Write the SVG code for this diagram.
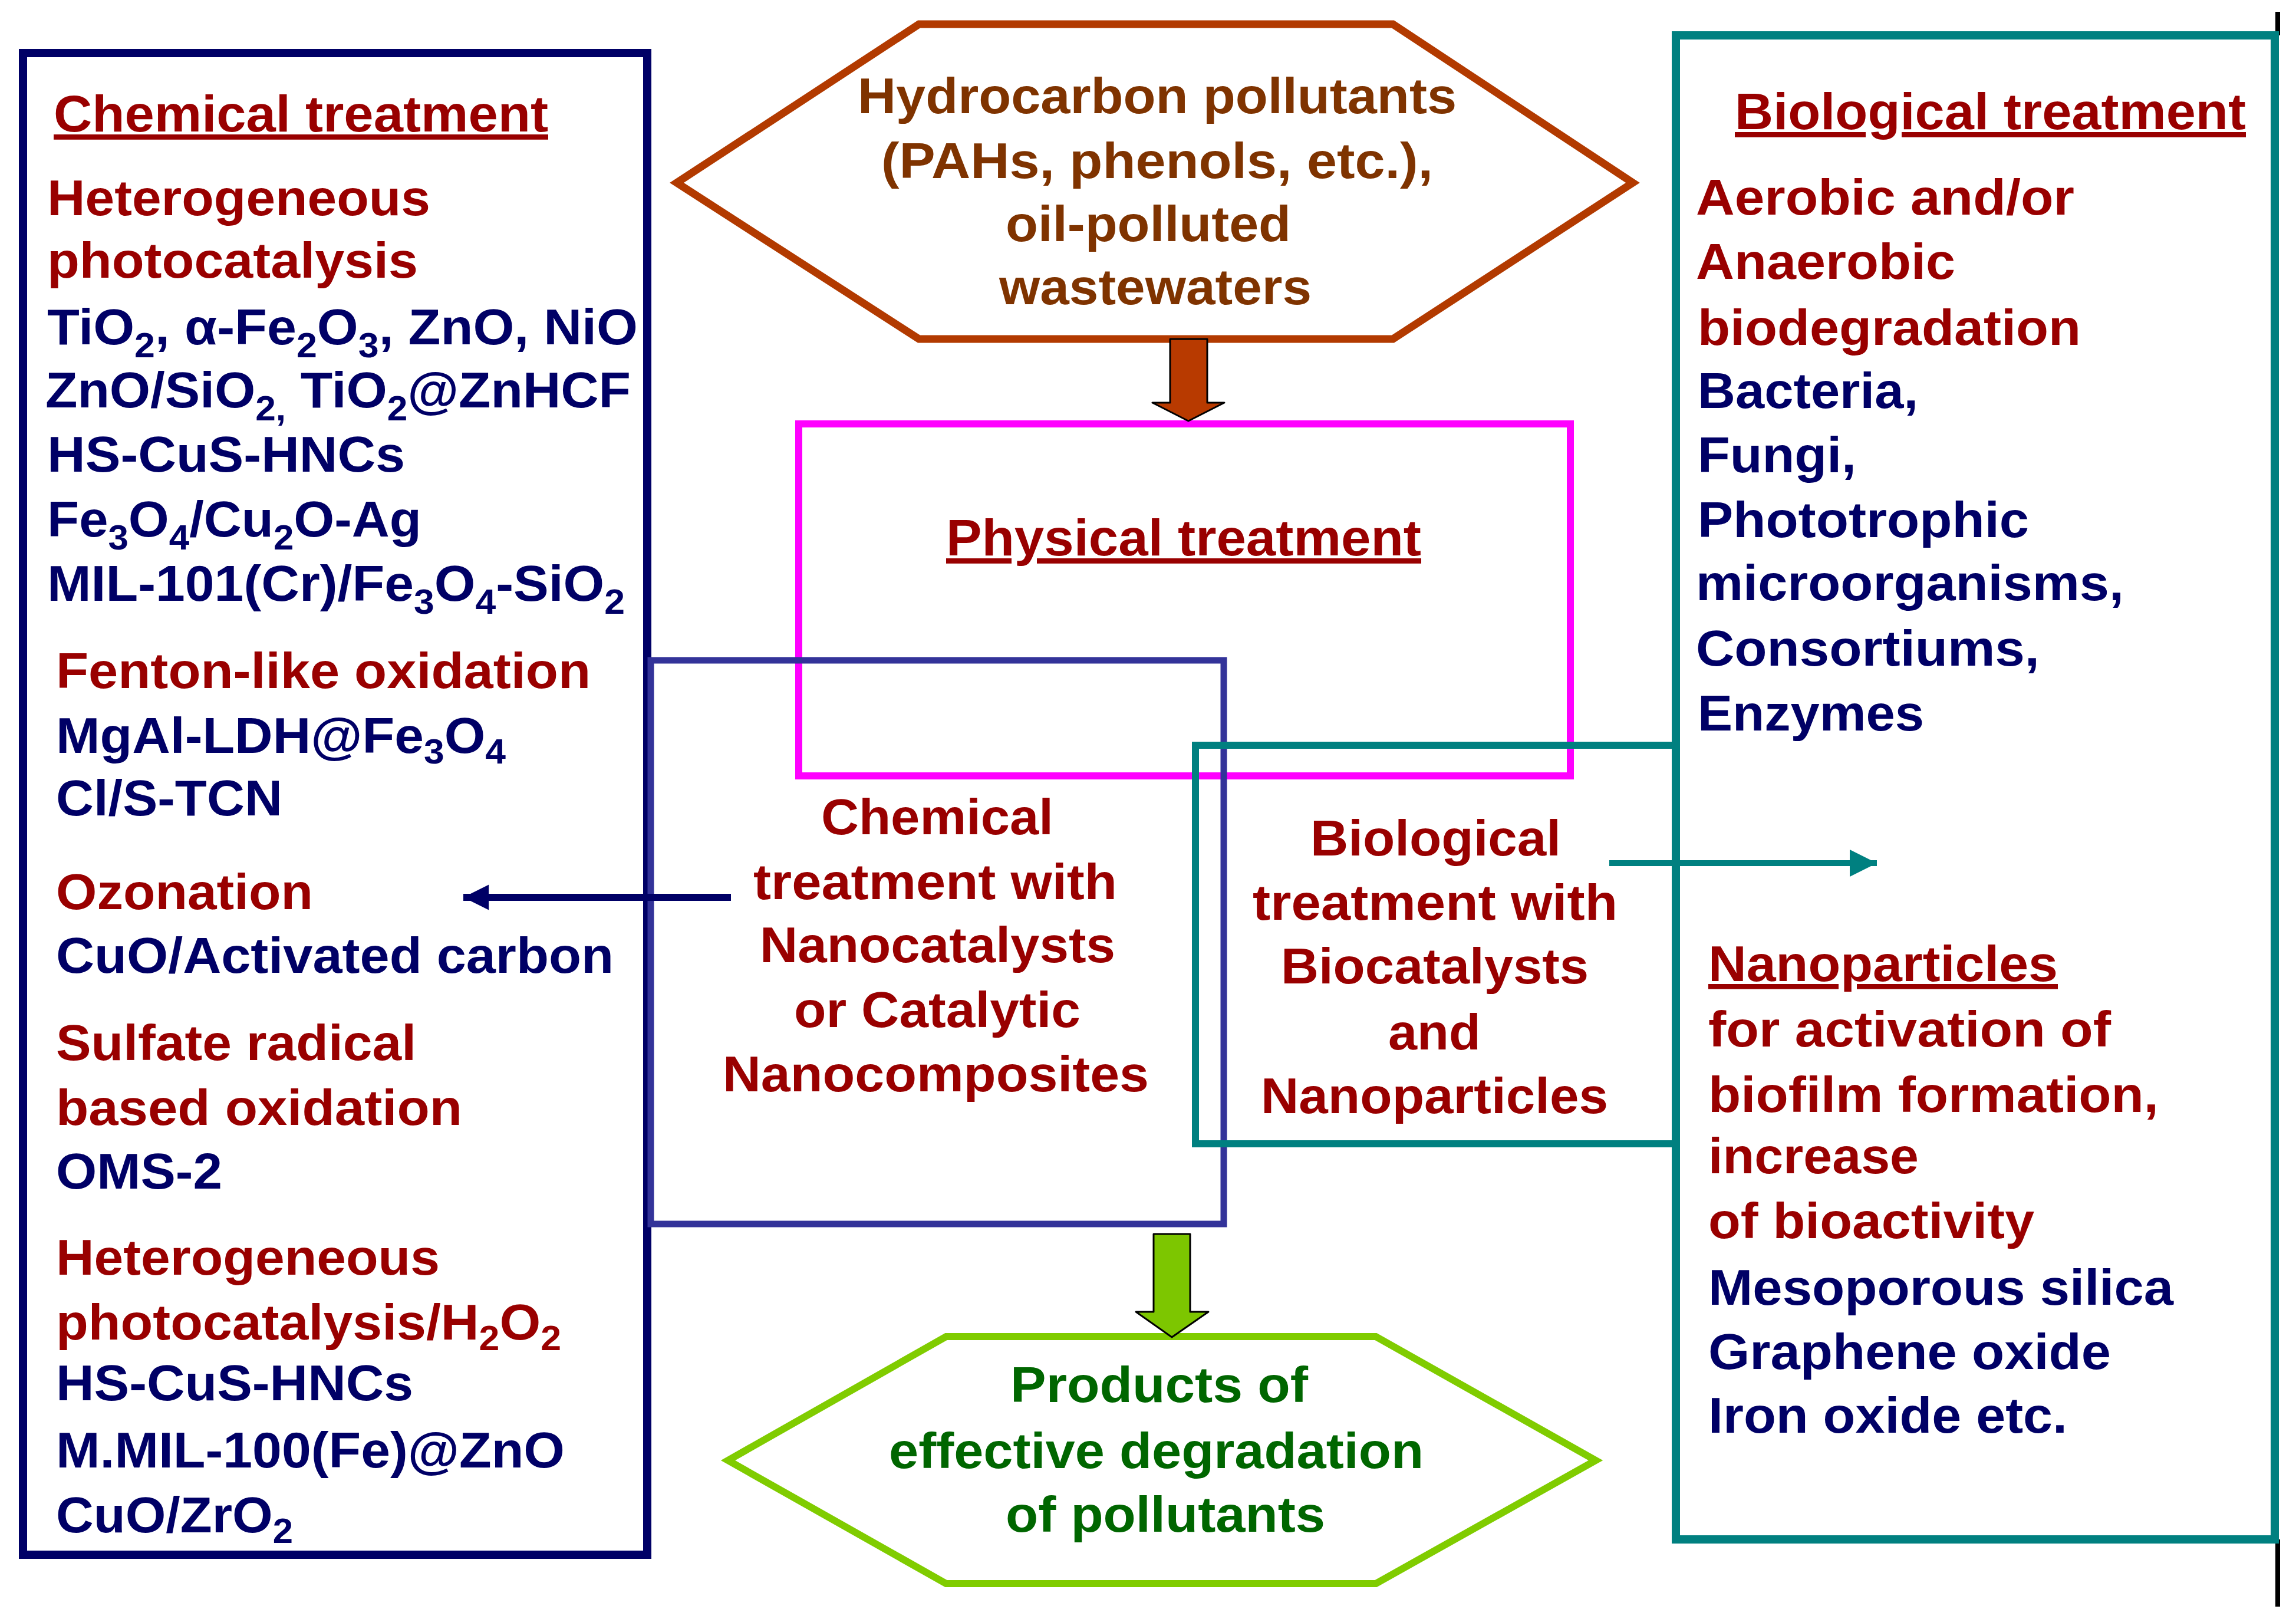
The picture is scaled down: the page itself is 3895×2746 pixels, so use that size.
<svg xmlns="http://www.w3.org/2000/svg" width="3895" height="2746" viewBox="0 0 3895 2746">
<style>
.t{font-family:"Liberation Sans",Arial,sans-serif;font-weight:bold;font-size:86px}
.h{font-size:88px;text-decoration:underline}
.red{fill:#990000}
.navy{fill:#000066}
.brown{fill:#7f3300}
.green{fill:#006600}
.sub{font-size:60px}
.box{fill:none}
</style>
<defs>
<marker id="navyHead" viewBox="0 0 10 10" refX="10" refY="5" markerWidth="3.9" markerHeight="3.6" orient="auto" markerUnits="strokeWidth"><path d="M0,0 L10,5 L0,10 z" fill="#000066"/></marker>
<marker id="tealHead" viewBox="0 0 10 10" refX="10" refY="5" markerWidth="4.8" markerHeight="4.6" orient="auto" markerUnits="strokeWidth"><path d="M0,0 L10,5 L0,10 z" fill="#008080"/></marker>
</defs>
<rect width="3895" height="2746" fill="#ffffff"/>

<g id="black-edge" stroke="#000000" stroke-width="8">
<line x1="3864" y1="20" x2="3864" y2="60"/>
<line x1="3864" y1="2611" x2="3864" y2="2725"/>
</g>

<g id="chemical-treatment">
<rect class="box" x="39" y="90" width="1059" height="2547" stroke="#000066" stroke-width="14"/>
<text class="t h red" x="91" y="223" textLength="839" lengthAdjust="spacingAndGlyphs">Chemical treatment</text>
<text class="t red" x="80" y="365" textLength="650" lengthAdjust="spacingAndGlyphs">Heterogeneous</text>
<text class="t red" x="80" y="471" textLength="629" lengthAdjust="spacingAndGlyphs">photocatalysis</text>
<text class="t navy" x="80" y="584" textLength="1002" lengthAdjust="spacingAndGlyphs">TiO<tspan class="sub" dy="22">2</tspan><tspan dy="-22">, α-Fe</tspan><tspan class="sub" dy="22">2</tspan><tspan dy="-22">O</tspan><tspan class="sub" dy="22">3</tspan><tspan dy="-22">, ZnO, NiO</tspan></text>
<text class="t navy" x="77" y="691" textLength="993" lengthAdjust="spacingAndGlyphs">ZnO/SiO<tspan class="sub" dy="22">2,</tspan><tspan dy="-22"> TiO</tspan><tspan class="sub" dy="22">2</tspan><tspan dy="-22">@ZnHCF</tspan></text>
<text class="t navy" x="80" y="800" textLength="607" lengthAdjust="spacingAndGlyphs">HS-CuS-HNCs</text>
<text class="t navy" x="80" y="910" textLength="635" lengthAdjust="spacingAndGlyphs">Fe<tspan class="sub" dy="22">3</tspan><tspan dy="-22">O</tspan><tspan class="sub" dy="22">4</tspan><tspan dy="-22">/Cu</tspan><tspan class="sub" dy="22">2</tspan><tspan dy="-22">O-Ag</tspan></text>
<text class="t navy" x="80" y="1019" textLength="980" lengthAdjust="spacingAndGlyphs">MIL-101(Cr)/Fe<tspan class="sub" dy="22">3</tspan><tspan dy="-22">O</tspan><tspan class="sub" dy="22">4</tspan><tspan dy="-22">-SiO</tspan><tspan class="sub" dy="22">2</tspan></text>
<text class="t red" x="95" y="1167" textLength="907" lengthAdjust="spacingAndGlyphs">Fenton-like oxidation</text>
<text class="t navy" x="95" y="1277" textLength="763" lengthAdjust="spacingAndGlyphs">MgAl-LDH@Fe<tspan class="sub" dy="18">3</tspan><tspan dy="-18">O</tspan><tspan class="sub" dy="18">4</tspan></text>
<text class="t navy" x="95" y="1383" textLength="384" lengthAdjust="spacingAndGlyphs">Cl/S-TCN</text>
<text class="t red" x="95" y="1542" textLength="436" lengthAdjust="spacingAndGlyphs">Ozonation</text>
<text class="t navy" x="95" y="1650" textLength="946" lengthAdjust="spacingAndGlyphs">CuO/Activated carbon</text>
<text class="t red" x="95" y="1798" textLength="611" lengthAdjust="spacingAndGlyphs">Sulfate radical</text>
<text class="t red" x="95" y="1908" textLength="689" lengthAdjust="spacingAndGlyphs">based oxidation</text>
<text class="t navy" x="95" y="2016" textLength="282" lengthAdjust="spacingAndGlyphs">OMS-2</text>
<text class="t red" x="95" y="2162" textLength="651" lengthAdjust="spacingAndGlyphs">Heterogeneous</text>
<text class="t red" x="95" y="2272" textLength="857" lengthAdjust="spacingAndGlyphs">photocatalysis/H<tspan class="sub" dy="18">2</tspan><tspan dy="-18">O</tspan><tspan class="sub" dy="18">2</tspan></text>
<text class="t navy" x="95" y="2375" textLength="606" lengthAdjust="spacingAndGlyphs">HS-CuS-HNCs</text>
<text class="t navy" x="95" y="2489" textLength="863" lengthAdjust="spacingAndGlyphs">M.MIL-100(Fe)@ZnO</text>
<text class="t navy" x="95" y="2599" textLength="402" lengthAdjust="spacingAndGlyphs">CuO/ZrO<tspan class="sub" dy="18">2</tspan></text>
</g>

<g id="biological-treatment">
<rect class="box" x="2843" y="60" width="1016" height="2551" stroke="#008080" stroke-width="14"/>
<text class="t h red" x="2943" y="219" textLength="867" lengthAdjust="spacingAndGlyphs">Biological treatment</text>
<text class="t red" x="2877" y="364" textLength="642" lengthAdjust="spacingAndGlyphs">Aerobic and/or</text>
<text class="t red" x="2877" y="473" textLength="440" lengthAdjust="spacingAndGlyphs">Anaerobic</text>
<text class="t red" x="2880" y="585" textLength="650" lengthAdjust="spacingAndGlyphs">biodegradation</text>
<text class="t navy" x="2880" y="692" textLength="374" lengthAdjust="spacingAndGlyphs">Bacteria,</text>
<text class="t navy" x="2880" y="801" textLength="269" lengthAdjust="spacingAndGlyphs">Fungi,</text>
<text class="t navy" x="2880" y="911" textLength="562" lengthAdjust="spacingAndGlyphs">Phototrophic</text>
<text class="t navy" x="2877" y="1018" textLength="726" lengthAdjust="spacingAndGlyphs">microorganisms,</text>
<text class="t navy" x="2877" y="1129" textLength="583" lengthAdjust="spacingAndGlyphs">Consortiums,</text>
<text class="t navy" x="2880" y="1239" textLength="384" lengthAdjust="spacingAndGlyphs">Enzymes</text>
<text class="t h red" x="2898" y="1664" textLength="593" lengthAdjust="spacingAndGlyphs" style="font-size:86px">Nanoparticles</text>
<text class="t red" x="2898" y="1775" textLength="683" lengthAdjust="spacingAndGlyphs">for activation of</text>
<text class="t red" x="2898" y="1886" textLength="764" lengthAdjust="spacingAndGlyphs">biofilm formation,</text>
<text class="t red" x="2898" y="1990" textLength="357" lengthAdjust="spacingAndGlyphs">increase</text>
<text class="t red" x="2898" y="2100" textLength="553" lengthAdjust="spacingAndGlyphs">of bioactivity</text>
<text class="t navy" x="2898" y="2213" textLength="789" lengthAdjust="spacingAndGlyphs">Mesoporous silica</text>
<text class="t navy" x="2898" y="2322" textLength="683" lengthAdjust="spacingAndGlyphs">Graphene oxide</text>
<text class="t navy" x="2898" y="2430" textLength="609" lengthAdjust="spacingAndGlyphs">Iron oxide etc.</text>
</g>

<g id="hydrocarbon-pollutants">
<polygon points="1148,310 1559,41 2363,41 2770,310 2363,575 1559,575" fill="none" stroke="#b23a00" stroke-width="13"/>
<text class="t brown" x="1455" y="192" textLength="1016" lengthAdjust="spacingAndGlyphs">Hydrocarbon pollutants</text>
<text class="t brown" x="1495" y="302" textLength="936" lengthAdjust="spacingAndGlyphs">(PAHs, phenols, etc.),</text>
<text class="t brown" x="1706" y="409" textLength="484" lengthAdjust="spacingAndGlyphs">oil-polluted</text>
<text class="t brown" x="1695" y="516" textLength="530" lengthAdjust="spacingAndGlyphs">wastewaters</text>
</g>

<g id="physical-treatment">
<rect class="box" x="1355" y="719" width="1309" height="597" stroke="#ff00ff" stroke-width="12"/>
<text class="t h red" x="1605" y="942" textLength="806" lengthAdjust="spacingAndGlyphs">Physical treatment</text>
</g>

<g id="chemical-nanocatalysts">
<rect class="box" x="1104" y="1120" width="972" height="956" stroke="#333399" stroke-width="11"/>
<text class="t red" x="1393" y="1415" textLength="394" lengthAdjust="spacingAndGlyphs">Chemical</text>
<text class="t red" x="1278" y="1525" textLength="617" lengthAdjust="spacingAndGlyphs">treatment with</text>
<text class="t red" x="1289" y="1632" textLength="603" lengthAdjust="spacingAndGlyphs">Nanocatalysts</text>
<text class="t red" x="1347" y="1742" textLength="486" lengthAdjust="spacingAndGlyphs">or Catalytic</text>
<text class="t red" x="1226" y="1851" textLength="723" lengthAdjust="spacingAndGlyphs">Nanocomposites</text>
</g>

<g id="biological-biocatalysts">
<rect class="box" x="2028" y="1264" width="815" height="676" stroke="#008080" stroke-width="12"/>
<text class="t red" x="2223" y="1451" textLength="425" lengthAdjust="spacingAndGlyphs">Biological</text>
<text class="t red" x="2125" y="1560" textLength="619" lengthAdjust="spacingAndGlyphs">treatment with</text>
<text class="t red" x="2173" y="1668" textLength="522" lengthAdjust="spacingAndGlyphs">Biocatalysts</text>
<text class="t red" x="2355" y="1780" textLength="157" lengthAdjust="spacingAndGlyphs">and</text>
<text class="t red" x="2139" y="1888" textLength="589" lengthAdjust="spacingAndGlyphs">Nanoparticles</text>
</g>

<g id="products">
<polygon points="1235,2477 1605,2267 2334,2267 2707,2477 2334,2686 1605,2686" fill="none" stroke="#80cc00" stroke-width="12"/>
<text class="t green" x="1714" y="2378" textLength="505" lengthAdjust="spacingAndGlyphs">Products of</text>
<text class="t green" x="1508" y="2490" textLength="907" lengthAdjust="spacingAndGlyphs">effective degradation</text>
<text class="t green" x="1706" y="2598" textLength="542" lengthAdjust="spacingAndGlyphs">of pollutants</text>
</g>

<g id="connectors">
<polygon points="1985,575 2048,575 2048,683 2077,683 2016,714 1955,683 1985,683" fill="#b83a00" stroke="#000000" stroke-width="3" stroke-linejoin="round"/>
<polygon points="1957,2093 2019,2093 2019,2225 2050,2225 1988,2268 1927,2225 1957,2225" fill="#7dc600" stroke="#000000" stroke-width="3" stroke-linejoin="round"/>
<line x1="1240" y1="1522" x2="786" y2="1522" stroke="#000066" stroke-width="12" marker-end="url(#navyHead)"/>
<line x1="2730" y1="1464" x2="3184" y2="1464" stroke="#008080" stroke-width="10" marker-end="url(#tealHead)"/>
</g>
</svg>
